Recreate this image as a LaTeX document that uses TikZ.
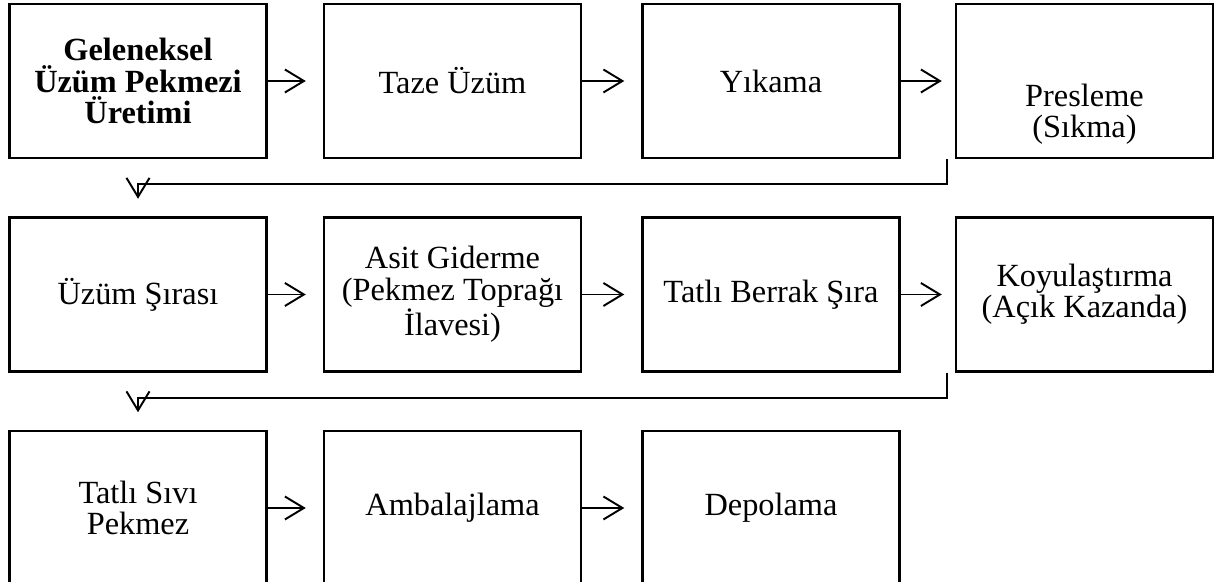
\documentclass[tikz,border=0pt]{standalone}
\usepackage{fontspec}
\setmainfont{Liberation Serif}
\usetikzlibrary{arrows.meta}

\begin{document}
\begin{tikzpicture}[scale=1,
    kutu/.style={draw, line width=1.4pt, minimum width=5.14cm, minimum height=3.08cm,
        align=center, inner sep=0pt, font=\fontsize{18.4}{17.9}\selectfont},
    metin/.style={align=center, inner sep=0pt, font=\fontsize{18.4}{17.9}\selectfont},
    ok/.style={line width=1.1pt, -{Straight Barb[length=0.38cm, width=0.46cm, line width=1.1pt]}}]
        \useasboundingbox (0,0) rectangle (24.5,11.64);

        % birinci satir
        \node[kutu] (baslik) at (2.76,10.02) {\textbf{Geleneksel}\\\textbf{Üzüm Pekmezi}\\\textbf{Üretimi}};
        \node[kutu] (taze) at (9.05,10.02) {Taze Üzüm};
        \node[kutu] (yikama) at (15.42,10.02) {Yıkama};
        \node[kutu] (presleme) at (21.69,10.02) {};
        \node[metin] (presleme-y) at ([yshift=-0.66cm]presleme.center) {Presleme\\(Sıkma)};

        % ikinci satir
        \node[kutu] (sira) at (2.76,5.75) {Üzüm Şırası};
        \node[kutu] (asit) at (9.05,5.75) {Asit Giderme\\(Pekmez Toprağı\\İlavesi)};
        \node[kutu] (berrak) at (15.42,5.75) {Tatlı Berrak Şıra};
        \node[kutu] (koyu) at (21.69,5.75) {Koyulaştırma\\(Açık Kazanda)};

        % ucuncu satir
        \node[kutu] (sivi) at (2.76,1.48) {Tatlı Sıvı\\Pekmez};
        \node[kutu] (ambalaj) at (9.05,1.48) {Ambalajlama};
        \node[kutu] (depo) at (15.42,1.48) {Depolama};

        \draw[ok] (baslik.east) -- ([xshift=-0.34cm]taze.west);
        \draw[ok] (taze.east) -- ([xshift=-0.34cm]yikama.west);
        \draw[ok] (yikama.east) -- ([xshift=-0.26cm]presleme.west);

        \draw[ok] (sira.east) -- ([xshift=-0.34cm]asit.west);
        \draw[ok] (asit.east) -- ([xshift=-0.34cm]berrak.west);
        \draw[ok] (berrak.east) -- ([xshift=-0.26cm]koyu.west);

        \draw[ok] (sivi.east) -- ([xshift=-0.34cm]ambalaj.west);
        \draw[ok] (ambalaj.east) -- ([xshift=-0.34cm]depo.west);

        % satir gecisleri
        \coordinate (d1) at ([xshift=-0.16cm]presleme.south west);
        \coordinate (d2) at ([xshift=-0.16cm]koyu.south west);
        \draw[ok] (d1) -- ++(0,-0.5) -| ([yshift=0.35cm]sira.north);
        \draw[ok] (d2) -- ++(0,-0.5) -| ([yshift=0.35cm]sivi.north);
    \end{tikzpicture}
\end{document}
